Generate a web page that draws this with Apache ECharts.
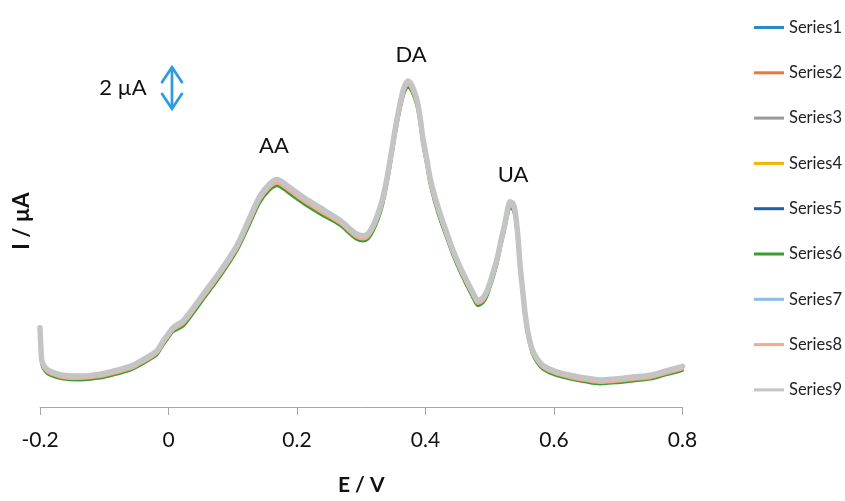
<!DOCTYPE html>
<html>
<head>
<meta charset="utf-8">
<script src="https://cdn.jsdelivr.net/npm/echarts@6/dist/echarts.min.js"></script>
<style>
  html, body { margin: 0; padding: 0; background: #fff; }
  #chart { width: 845px; height: 501px; }
</style>
</head>
<body>
<div id="chart"></div>
<script>
// Differential pulse voltammogram: potential (V) vs current (µA)
const potential = [
  -0.2, -0.1984, -0.1969, -0.1922, -0.1844, -0.1642, -0.1377, -0.1066, -0.0864, -0.0599,
  -0.0444, -0.0288, -0.0179, -0.0086, -0.0008, 0.0070, 0.0226, 0.0381, 0.0537, 0.0802,
  0.1066, 0.1268, 0.1424, 0.1580, 0.1689, 0.1844, 0.2093, 0.2358, 0.2669,
  0.2825, 0.2918, 0.3027, 0.3105, 0.3183, 0.3261, 0.3339, 0.3416, 0.3479, 0.3541,
  0.3603, 0.3665, 0.3728, 0.3790, 0.3868, 0.3914, 0.3961, 0.4023, 0.4070, 0.4148,
  0.4226, 0.4335, 0.4428, 0.4537, 0.4646, 0.4739, 0.4817, 0.4895, 0.4957, 0.5035,
  0.5113, 0.5175, 0.5237, 0.5284, 0.5315, 0.5362, 0.5393, 0.5440, 0.5471, 0.5518,
  0.5549, 0.5595, 0.5658, 0.5735, 0.5829, 0.6016, 0.6249, 0.6482, 0.6716, 0.6949,
  0.7230, 0.7494, 0.7728, 0.7961, 0.8
];

// upper trace (Series1, 3, 5, 7, 9)
const currentUpper = [
  3.81, 2.70, 2.19, 1.91, 1.72, 1.53, 1.49, 1.58, 1.72, 1.95,
  2.19, 2.47, 2.70, 3.16, 3.49, 3.81, 4.14, 4.74, 5.40, 6.51,
  7.77, 9.12, 10.14, 10.74, 10.93, 10.65, 10.09, 9.58, 8.98,
  8.56, 8.33, 8.23, 8.33, 8.70, 9.30, 10.09, 11.26, 12.42, 13.58,
  14.56, 15.35, 15.67, 15.44, 14.74, 13.95, 12.88, 11.86, 11.02, 10.09,
  9.30, 8.33, 7.53, 6.74, 6.05, 5.49, 5.12, 5.26, 5.58, 6.28,
  7.12, 8.00, 8.84, 9.58, 9.86, 9.77, 9.44, 8.14, 6.84, 5.44,
  4.51, 3.58, 2.79, 2.33, 2.00, 1.72, 1.53, 1.40, 1.30, 1.35,
  1.44, 1.53, 1.72, 1.91, 1.95
];

// middle trace (Series2, 4, 8)
const currentMiddle = [
  3.69, 2.58, 2.07, 1.79, 1.60, 1.41, 1.37, 1.46, 1.60, 1.83,
  2.07, 2.35, 2.58, 3.04, 3.37, 3.69, 3.99, 4.59, 5.25, 6.36,
  7.62, 8.94, 9.96, 10.56, 10.75, 10.47, 9.91, 9.40, 8.83,
  8.41, 8.18, 8.08, 8.18, 8.55, 9.12, 9.91, 11.08, 12.24, 13.40,
  14.38, 15.17, 15.49, 15.26, 14.56, 13.77, 12.70, 11.68, 10.84, 9.91,
  9.12, 8.18, 7.38, 6.59, 5.90, 5.34, 4.97, 5.11, 5.43, 6.13,
  6.97, 7.85, 8.69, 9.40, 9.68, 9.59, 9.26, 7.99, 6.69, 5.29,
  4.36, 3.46, 2.67, 2.21, 1.88, 1.60, 1.41, 1.28, 1.18, 1.23,
  1.32, 1.41, 1.60, 1.79, 1.83
];

// lower trace (Series6)
const currentLower = [
  3.62, 2.51, 2.00, 1.72, 1.53, 1.34, 1.30, 1.39, 1.53, 1.76,
  2.00, 2.28, 2.51, 2.97, 3.30, 3.62, 3.89, 4.49, 5.15, 6.26,
  7.52, 8.82, 9.84, 10.44, 10.63, 10.35, 9.79, 9.28, 8.73,
  8.31, 8.08, 7.98, 8.08, 8.45, 9.00, 9.79, 10.96, 12.12, 13.28,
  14.26, 15.05, 15.37, 15.14, 14.44, 13.65, 12.58, 11.56, 10.72, 9.79,
  9.00, 8.08, 7.28, 6.49, 5.80, 5.24, 4.87, 5.01, 5.33, 6.03,
  6.87, 7.75, 8.59, 9.28, 9.56, 9.47, 9.14, 7.89, 6.59, 5.19,
  4.26, 3.39, 2.60, 2.14, 1.81, 1.53, 1.34, 1.21, 1.11, 1.16,
  1.25, 1.34, 1.53, 1.72, 1.76
];

const seriesNames = ['Series1', 'Series2', 'Series3', 'Series4', 'Series5', 'Series6', 'Series7', 'Series8', 'Series9'];
const seriesColors = ['#2a8ac8', '#f07830', '#9a9a9a', '#f5b400', '#1f5fae', '#3d9b35', '#8dbde6', '#f9a98b', '#c4c4c4'];
const seriesTraces = [currentUpper, currentMiddle, currentUpper, currentMiddle, currentUpper, currentLower, currentUpper, currentMiddle, currentUpper];
const seriesWidths = [3, 3, 3, 3, 3, 3, 3, 3, 5.5];

const xTicks = { min: -0.2, max: 0.8, step: 0.2 };
const peakLabels = [
  { text: 'AA', x: 0.1642, y: 12.56 },
  { text: 'DA', x: 0.3774, y: 16.91 },
  { text: 'UA', x: 0.5362, y: 11.16 }
];
const scaleBar = { x: 0.0054, from: 14.33, to: 16.33, text: '2 µA' };

const FONT = 'Lato, "Open Sans", sans-serif';
const chart = echarts.init(document.getElementById('chart'), null, { renderer: 'canvas' });

const series = seriesNames.map((name, i) => ({
  name: name,
  type: 'line',
  data: potential.map((e, k) => [e, seriesTraces[i][k]]),
  showSymbol: false,
  symbol: 'none',
  smooth: 0.3,
  lineStyle: { color: seriesColors[i], width: seriesWidths[i], cap: 'round', join: 'round' },
  itemStyle: { color: seriesColors[i] },
  z: 2 + i,
  animation: false
}));

chart.setOption({
  animation: false,
  backgroundColor: '#ffffff',
  grid: { left: 40, right: 162.5, top: 20, bottom: 81 },
  xAxis: {
    type: 'value',
    min: xTicks.min,
    max: xTicks.max,
    interval: xTicks.step,
    name: 'E / V',
    nameLocation: 'middle',
    nameGap: 68,
    nameTextStyle: { fontFamily: FONT, fontSize: 21, fontWeight: 'bold', color: '#111' },
    axisLine: { show: true, onZero: false, lineStyle: { color: '#a6a6a6', width: 1 } },
    axisTick: { show: true, length: 8, lineStyle: { color: '#a6a6a6', width: 1 } },
    axisLabel: {
      fontFamily: FONT, fontSize: 21, color: '#111', margin: 23,
      formatter: v => String(Math.round(v * 10) / 10)
    },
    splitLine: { show: false }
  },
  yAxis: { type: 'value', min: 0, max: 18.6, show: false },
  legend: {
    orient: 'vertical',
    left: 749,
    top: 12.5,
    icon: 'rect',
    itemWidth: 30,
    itemHeight: 3,
    itemGap: 25.3,
    textStyle: { fontFamily: FONT, fontSize: 16.5, color: '#222', lineHeight: 20 },
    data: seriesNames
  },
  series: series
});

// annotations placed from data coordinates
function toPx(x, y) { return chart.convertToPixel({ gridIndex: 0 }, [x, y]); }
const barTop = toPx(scaleBar.x, scaleBar.to);
const barBot = toPx(scaleBar.x, scaleBar.from);
const arrowColor = '#2e9be0';
const headW = 10, headH = 15;
const arrowStyle = { stroke: arrowColor, lineWidth: 2.7, fill: null, lineCap: 'round', lineJoin: 'miter' };
const graphics = [
  {
    type: 'text', x: 22, y: 221, rotation: Math.PI / 2,
    style: { text: 'I / µA', font: 'bold 22px ' + FONT, fill: '#111', textAlign: 'center', textVerticalAlign: 'middle' }
  },
  {
    type: 'text', x: barTop[0] - 49, y: (barTop[1] + barBot[1]) / 2,
    style: { text: scaleBar.text, font: '22px ' + FONT, fill: '#111', textAlign: 'center', textVerticalAlign: 'middle' }
  },
  { type: 'line', shape: { x1: barTop[0], y1: barTop[1] + 1, x2: barBot[0], y2: barBot[1] - 1 }, style: arrowStyle },
  { type: 'polyline', shape: { points: [[barTop[0] - headW, barTop[1] + headH], [barTop[0], barTop[1]], [barTop[0] + headW, barTop[1] + headH]] }, style: arrowStyle },
  { type: 'polyline', shape: { points: [[barBot[0] - headW, barBot[1] - headH], [barBot[0], barBot[1]], [barBot[0] + headW, barBot[1] - headH]] }, style: arrowStyle }
];
peakLabels.forEach(p => {
  const pos = toPx(p.x, p.y);
  graphics.push({
    type: 'text', x: pos[0], y: pos[1],
    style: { text: p.text, font: '22px ' + FONT, fill: '#111', textAlign: 'center', textVerticalAlign: 'middle' }
  });
});
chart.setOption({ graphic: graphics });
</script>
</body>
</html>
